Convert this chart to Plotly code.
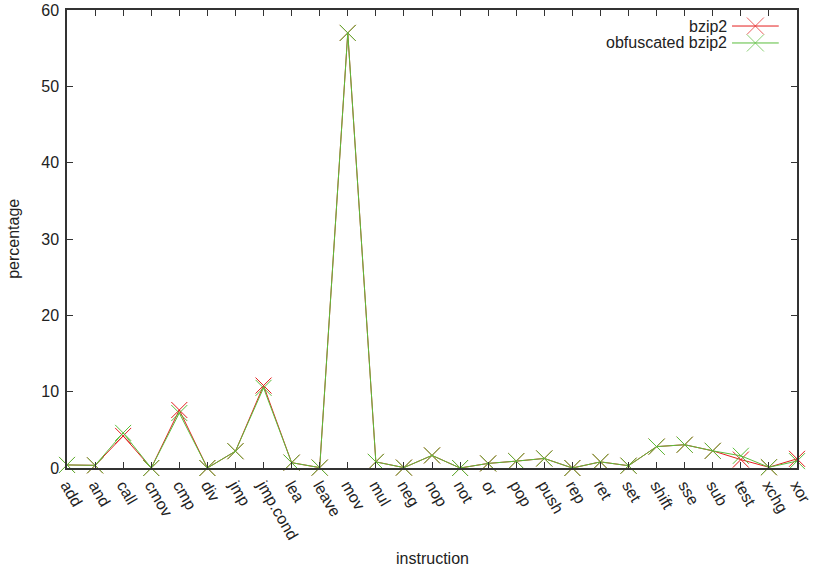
import plotly.graph_objects as go

categories = ["add", "and", "call", "cmov", "cmp", "div", "jmp", "jmp.cond", "lea", "leave",
              "mov", "mul", "neg", "nop", "not", "or", "pop", "push", "rep", "ret", "set",
              "shift", "sse", "sub", "test", "xchg", "xor"]
bzip2 = [0.4, 0.35, 4.2, 0.0, 7.6, 0.0, 2.2, 10.8, 0.7, 0.05,
         57.0, 0.8, 0.05, 1.65, 0.0, 0.6, 0.9, 1.25, 0.0, 0.8, 0.3,
         2.8, 3.05, 2.25, 1.1, 0.1, 1.2]
obf_bzip2 = [0.4, 0.35, 4.6, 0.0, 7.2, 0.0, 2.2, 10.5, 0.7, 0.05,
             57.0, 0.8, 0.05, 1.65, 0.0, 0.6, 0.9, 1.25, 0.0, 0.8, 0.3,
             2.8, 3.05, 2.25, 1.6, 0.1, 0.9]
series_names = ["bzip2", "obfuscated bzip2"]
colors = ["rgb(228,30,30)", "rgb(90,190,60)"]
yticks = [0, 10, 20, 30, 40, 50, 60]

FONT = "Liberation Sans, Arial, sans-serif"
FS = 16
fig = go.Figure()
for name, vals, col in zip(series_names, [bzip2, obf_bzip2], colors):
    fig.add_trace(go.Scatter(
        x=categories, y=vals, name=name, mode="lines+markers",
        line=dict(color=col, width=1),
        marker=dict(symbol="x-thin", size=16, line=dict(color=col, width=1)),
        cliponaxis=False, showlegend=False))

# legend samples on a hidden overlay axis
for i, (name, col) in enumerate(zip(series_names, colors)):
    yy = 0.965 - i * 0.037
    fig.add_trace(go.Scatter(
        x=[0.911, 0.943, 0.975], y=[yy, yy, yy],
        xaxis="x2", yaxis="y2", mode="lines+markers",
        line=dict(color=col, width=1),
        marker=dict(symbol="x-thin", size=[0, 17, 0], line=dict(color=col, width=1)),
        showlegend=False, hoverinfo="skip", cliponaxis=False))
    fig.add_annotation(xref="x2", yref="y2", x=0.907, y=yy, text=name, showarrow=False,
                       xanchor="right", yanchor="middle",
                       font=dict(family=FONT, size=FS, color="#222"))

fig.update_layout(
    width=814, height=573,
    margin=dict(l=67, r=17, t=10, b=105),
    paper_bgcolor="white", plot_bgcolor="white",
    font=dict(family=FONT, size=FS, color="#222"),
    xaxis=dict(type="category", categoryorder="array", categoryarray=categories,
               range=[0, 26], showgrid=False, zeroline=False, automargin=False,
               showline=True, linecolor="#333", linewidth=1.5, mirror="ticks",
               ticks="inside", ticklen=6, tickcolor="#333", tickwidth=1,
               tickangle=60, tickfont=dict(family=FONT, size=FS, color="#222")),
    yaxis=dict(range=[0, 60], tickvals=yticks, showgrid=False, zeroline=False,
               automargin=False, ticklabelstandoff=3,
               showline=True, linecolor="#333", linewidth=1.5, mirror="ticks",
               ticks="inside", ticklen=6, tickcolor="#333", tickwidth=1,
               tickfont=dict(family=FONT, size=FS, color="#222")),
    xaxis2=dict(range=[0, 1], domain=[0, 1], overlaying="x", visible=False, fixedrange=True),
    yaxis2=dict(range=[0, 1], domain=[0, 1], overlaying="y", visible=False, fixedrange=True),
    showlegend=False,
)
fig.add_annotation(xref="paper", yref="paper", x=0.5, y=-0.175, text="instruction",
                   showarrow=False, yanchor="top",
                   font=dict(family=FONT, size=FS, color="#222"))
fig.add_annotation(xref="paper", yref="paper", x=-0.055, y=0.5, text="percentage",
                   showarrow=False, textangle=-90, xanchor="center", xshift=-14,
                   font=dict(family=FONT, size=FS, color="#222"))

fig.write_html("out.html")
